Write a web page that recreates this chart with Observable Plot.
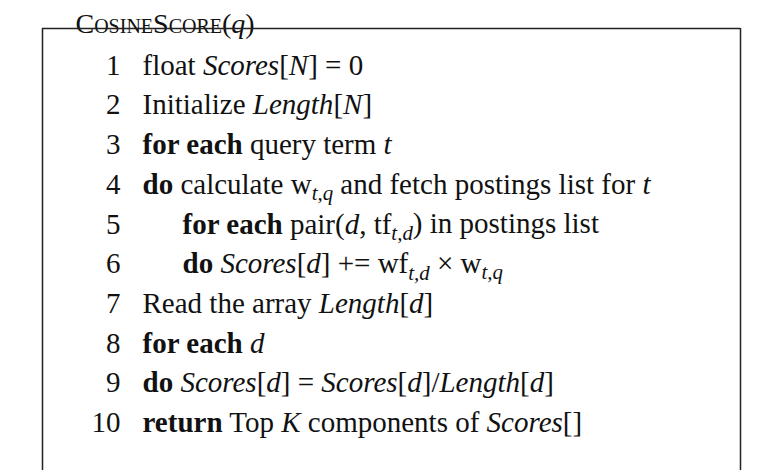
<!DOCTYPE html>
<html>
<head>
<meta charset="utf-8">
<script src="https://cdn.jsdelivr.net/npm/d3@7"></script>
<script src="https://cdn.jsdelivr.net/npm/@observablehq/plot@0.6"></script>
<style>
  body { margin: 0; background: #fff; }
  text { font-family: "Liberation Serif", "DejaVu Serif", serif; }
</style>
</head>
<body>
<div id="chart"></div>
<script>
// algorithm lines: number, indent level, text with markup (**bold**, *italic*, _{sub})
const lineNums = [1, 2, 3, 4, 5, 6, 7, 8, 9, 10];
const indents = [0, 0, 0, 0, 1, 1, 0, 0, 0, 0];
const lineTexts = [
  "float *Scores*[*N*] = 0",
  "Initialize *Length*[*N*]",
  "**for each** query term *t*",
  "**do** calculate w_{t,q} and fetch postings list for *t*",
  "**for each** pair(*d*, tf_{t,d}) in postings list",
  "**do** *Scores*[*d*] += wf_{t,d} × w_{t,q}",
  "Read the array *Length*[*d*]",
  "**for each** *d*",
  "**do** *Scores*[*d*] = *Scores*[*d*]/*Length*[*d*]",
  "**return** Top *K* components of *Scores*[]"
];
const title = "CosineScore(*q*)";

const rows = lineNums.map((n, i) => ({n, indent: indents[i], text: lineTexts[i]}));

// turn markup into tspans after Plot draws plain text
function richText(index, scales, values, dims, context, next) {
  const g = next(index, scales, values, dims, context);
  d3.select(g).selectAll("text").each(function() {
    const el = d3.select(this);
    const src = el.text();
    el.text(null);
    const parts = src.split(/(\*\*[^*]+\*\*|\*[^*]+\*|_\{[^}]+\})/).filter(s => s !== "");
    let sub = false;
    for (const p of parts) {
      const t = el.append("tspan");
      if (p.startsWith("**")) {
        t.text(p.slice(2, -2)).attr("font-weight", "bold");
      } else if (p.startsWith("*")) {
        t.text(p.slice(1, -1)).attr("font-style", "italic").attr("font-variant", "normal");
      } else if (p.startsWith("_{")) {
        t.text(p.slice(2, -1)).attr("font-style", "italic").attr("font-size", "72%").attr("dy", "0.3em");
        sub = true;
        continue;
      } else {
        t.text(p);
      }
      if (sub) { t.attr("dy", "-0.22em"); sub = false; }
    }
  });
  return g;
}

const rowY = d => 65 + (d.n - 1) * 39.7;

const chart = Plot.plot({
  width: 780,
  height: 470,
  margin: 0,
  x: {domain: [0, 780], axis: null},
  y: {domain: [0, 470], axis: null, reverse: true},
  marks: [
    Plot.text([title], {
      x: 75, y: 24, text: d => d, textAnchor: "start", fontSize: 28,
      fill: "#111", fontVariant: "small-caps", render: richText
    }),
    Plot.ruleY([28], {x1: 42, x2: 740, stroke: "#222", strokeWidth: 1.5}),
    Plot.ruleX([42], {y1: 28, y2: 470, stroke: "#222", strokeWidth: 1.5}),
    Plot.ruleX([740], {y1: 28, y2: 470, stroke: "#222", strokeWidth: 1.5}),
    Plot.text(rows, {
      x: 120, y: rowY, text: d => String(d.n),
      textAnchor: "end", fontSize: 29, fill: "#111"
    }),
    Plot.text(rows, {
      x: d => 142 + d.indent * 40, y: rowY, text: "text",
      textAnchor: "start", fontSize: 29, fill: "#111",
      letterSpacing: "0.8px", render: richText
    })
  ]
});

d3.select("#chart").append(() => chart);
</script>
</body>
</html>
